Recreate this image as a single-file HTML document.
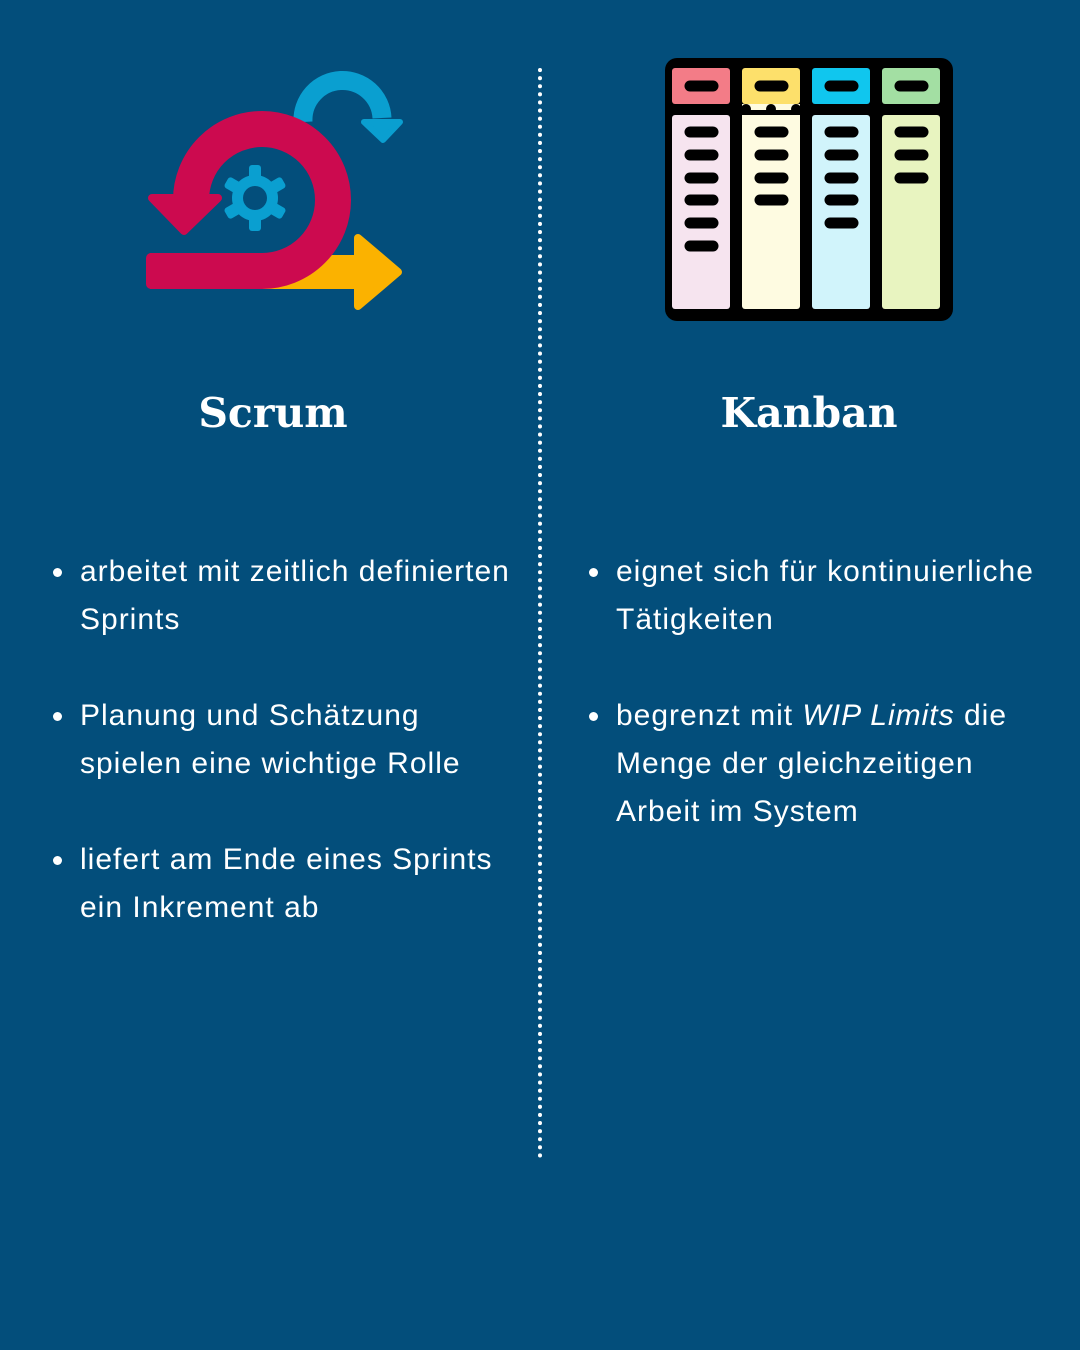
<!DOCTYPE html>
<html><head><meta charset="utf-8"><style>
body{margin:0;width:1080px;height:1350px;background:#034e7b;position:relative;overflow:hidden;font-family:"Liberation Sans",sans-serif;color:#fff}
.t{position:absolute;font-family:"DejaVu Serif","Liberation Serif",serif;font-weight:bold;font-size:41px;text-align:center;width:400px;top:389px}
ul{position:absolute;margin:0;padding:0 0 0 28px;list-style:none;font-size:30px;line-height:48px;letter-spacing:1px;white-space:nowrap}
li{position:relative;margin-bottom:48px}
li:before{content:"";position:absolute;left:-27px;top:20px;width:9px;height:9px;border-radius:50%;background:#fff}
</style></head><body>
<svg width="1080" height="1350" style="position:absolute;left:0;top:0">
<line x1="540" y1="70" x2="540" y2="1162" stroke="#fff" stroke-width="4" stroke-dasharray="0.1 8" stroke-linecap="round"/>
<path d="M303 122 A38 38 0 0 1 382 118" fill="none" stroke="#0a9fd0" stroke-width="19"/>
<polygon points="364,122 400,122 383,140" fill="#0a9fd0" stroke="#0a9fd0" stroke-width="6" stroke-linejoin="round"/>
<rect x="260" y="255" width="100" height="34" fill="#fbb200"/>
<polygon points="358,238 398,272 358,306" fill="#fbb200" stroke="#fbb200" stroke-width="8" stroke-linejoin="round"/>
<path d="M150 271 L262 271 A71 71 0 1 0 191 200" fill="none" stroke="#cc0a4f" stroke-width="36" stroke-linejoin="round"/>
<rect x="146" y="253" width="20" height="36" rx="5" fill="#cc0a4f"/>
<polygon points="152,198 218,198 184,231" fill="#cc0a4f" stroke="#cc0a4f" stroke-width="8" stroke-linejoin="round"/>
<g transform="translate(255,198)" fill="#0a9fd0">
<circle r="23"/>
<g id="tt"><rect x="-6" y="-33" width="12" height="14" rx="3"/></g>
<use href="#tt" transform="rotate(60)"/><use href="#tt" transform="rotate(120)"/>
<use href="#tt" transform="rotate(180)"/><use href="#tt" transform="rotate(240)"/><use href="#tt" transform="rotate(300)"/>
<circle r="12" fill="#034e7b"/>
</g>
<rect x="665" y="58" width="288" height="263" rx="12" fill="#000"/>
<g>
<rect x="672" y="68" width="58" height="36" rx="3" fill="#f37c87"/><rect x="672" y="115" width="58" height="194" rx="3" fill="#f6e4ef"/>
<rect x="742" y="68" width="58" height="36" rx="3" fill="#fde06b"/><rect x="742" y="111" width="58" height="198" rx="3" fill="#fefbe1"/>
<rect x="812" y="68" width="58" height="36" rx="3" fill="#10c6ee"/><rect x="812" y="115" width="58" height="194" rx="3" fill="#d1f4fb"/>
<rect x="882" y="68" width="58" height="36" rx="3" fill="#a3dfa3"/><rect x="882" y="115" width="58" height="194" rx="3" fill="#e8f4c0"/>
</g>
<g stroke="#000" stroke-width="11" stroke-linecap="round">
<line x1="690" y1="86" x2="713" y2="86"/><line x1="760" y1="86" x2="783" y2="86"/><line x1="830" y1="86" x2="853" y2="86"/><line x1="900" y1="86" x2="923" y2="86"/>
<line x1="690" y1="132" x2="713" y2="132"/><line x1="690" y1="155" x2="713" y2="155"/><line x1="690" y1="178" x2="713" y2="178"/><line x1="690" y1="200" x2="713" y2="200"/><line x1="690" y1="223" x2="713" y2="223"/><line x1="690" y1="246" x2="713" y2="246"/>
<line x1="760" y1="132" x2="783" y2="132"/><line x1="760" y1="155" x2="783" y2="155"/><line x1="760" y1="178" x2="783" y2="178"/><line x1="760" y1="200" x2="783" y2="200"/>
<line x1="830" y1="132" x2="853" y2="132"/><line x1="830" y1="155" x2="853" y2="155"/><line x1="830" y1="178" x2="853" y2="178"/><line x1="830" y1="200" x2="853" y2="200"/><line x1="830" y1="223" x2="853" y2="223"/>
<line x1="900" y1="132" x2="923" y2="132"/><line x1="900" y1="155" x2="923" y2="155"/><line x1="900" y1="178" x2="923" y2="178"/>
</g>
<rect x="672" y="104" width="268" height="11" fill="#000"/>
<rect x="742" y="104" width="58" height="6" fill="#fefbe1"/>
<circle cx="746" cy="109" r="5" fill="#000"/><circle cx="771" cy="109" r="5" fill="#000"/><circle cx="796" cy="109" r="5" fill="#000"/>
</svg>
<div class="t" style="left:73px">Scrum</div>
<div class="t" style="left:609px">Kanban</div>
<ul style="left:52px;top:548px">
<li>arbeitet mit zeitlich definierten<br>Sprints</li>
<li>Planung und Schätzung<br>spielen eine wichtige Rolle</li>
<li>liefert am Ende eines Sprints<br>ein Inkrement ab</li>
</ul>
<ul style="left:588px;top:548px">
<li>eignet sich für kontinuierliche<br>Tätigkeiten</li>
<li>begrenzt mit <i>WIP Limits</i> die<br>Menge der gleichzeitigen<br>Arbeit im System</li>
</ul>
</body></html>
